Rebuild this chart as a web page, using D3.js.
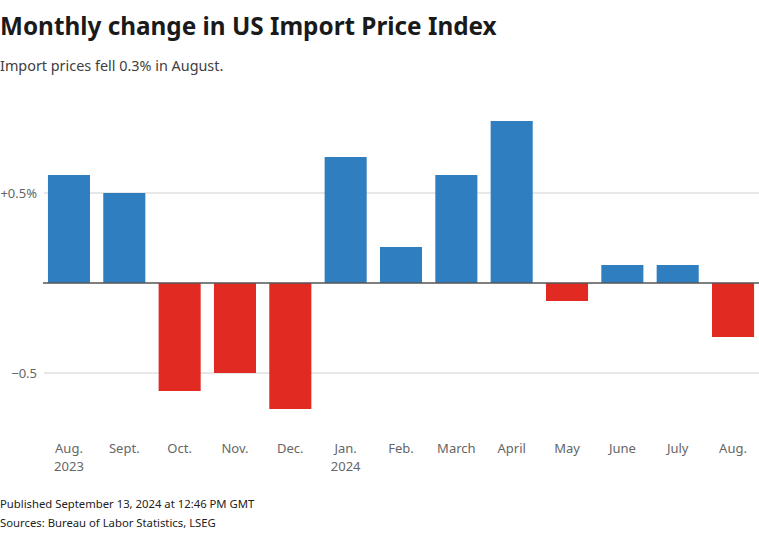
<!DOCTYPE html>
<html>
<head>
<meta charset="utf-8">
<script src="https://cdn.jsdelivr.net/npm/d3@7"></script>
<style>
  body { margin: 0; background: #fff; }
  svg { display: block; }
</style>
</head>
<body>
<svg id="chart" width="759" height="534"></svg>
<script>
const months = ["Aug.", "Sept.", "Oct.", "Nov.", "Dec.", "Jan.", "Feb.", "March", "April", "May", "June", "July", "Aug."];
const years = ["2023", "", "", "", "", "2024", "", "", "", "", "", "", ""];
const values = [0.6, 0.5, -0.6, -0.5, -0.7, 0.7, 0.2, 0.6, 0.9, -0.1, 0.1, 0.1, -0.3];
const yTicks = [0.5, -0.5];
const yTickLabels = ["+0.5%", "−0.5"];

const svg = d3.select("#chart");
const font = "'Source Sans Pro', 'Noto Sans', sans-serif";

const x = d3.scaleBand().domain(d3.range(values.length)).range([41.3, 760.7]).paddingInner(0.24).paddingOuter(0.12);
const y = d3.scaleLinear().domain([-0.5, 0.5]).range([373, 193]);

// Title
svg.append("text").attr("x", 0).attr("y", 35)
  .attr("font-family", font).attr("font-weight", 700).attr("font-size", 24.3)
  .attr("fill", "#1a1a1a").text("Monthly change in US Import Price Index");
svg.append("text").attr("x", 0).attr("y", 71)
  .attr("font-family", font).attr("font-size", 14.4)
  .attr("fill", "#404040").text("Import prices fell 0.3% in August.");

// gridlines
svg.append("g").selectAll("line").data(yTicks).join("line")
  .attr("x1", 44).attr("x2", 759)
  .attr("y1", d => y(d)).attr("y2", d => y(d))
  .attr("stroke", "#d0d0d0").attr("stroke-width", 1);
svg.append("g").selectAll("text").data(yTicks).join("text")
  .attr("x", 37).attr("y", d => y(d) + 5)
  .attr("text-anchor", "end")
  .attr("font-family", font).attr("font-size", 13)
  .attr("fill", "#666").text((d, i) => yTickLabels[i]);

// bars
svg.append("g").selectAll("rect").data(values).join("rect")
  .attr("x", (d, i) => x(i))
  .attr("width", x.bandwidth())
  .attr("y", d => y(Math.max(0, d)))
  .attr("height", d => Math.abs(y(d) - y(0)))
  .attr("fill", d => d >= 0 ? "#2f7ebf" : "#e02a22");

// zero line
svg.append("line").attr("x1", 43).attr("x2", 759)
  .attr("y1", y(0)).attr("y2", y(0))
  .attr("stroke", "#555").attr("stroke-width", 1.3);

// x labels
const xl = svg.append("g");
xl.selectAll("text.m").data(months).join("text").attr("class", "m")
  .attr("x", (d, i) => x(i) + x.bandwidth() / 2).attr("y", 453)
  .attr("text-anchor", "middle").attr("font-family", font).attr("font-size", 13)
  .attr("fill", "#666").text(d => d);
xl.selectAll("text.y").data(years).join("text").attr("class", "y")
  .attr("x", (d, i) => x(i) + x.bandwidth() / 2).attr("y", 471)
  .attr("text-anchor", "middle").attr("font-family", font).attr("font-size", 13)
  .attr("fill", "#666").text(d => d);

// footer
svg.append("text").attr("x", 0).attr("y", 508)
  .attr("font-family", font).attr("font-size", 11.3)
  .attr("fill", "#222").text("Published September 13, 2024 at 12:46 PM GMT");
svg.append("text").attr("x", 0).attr("y", 527)
  .attr("font-family", font).attr("font-size", 11.3)
  .attr("fill", "#222").text("Sources: Bureau of Labor Statistics, LSEG");
</script>
</body>
</html>
